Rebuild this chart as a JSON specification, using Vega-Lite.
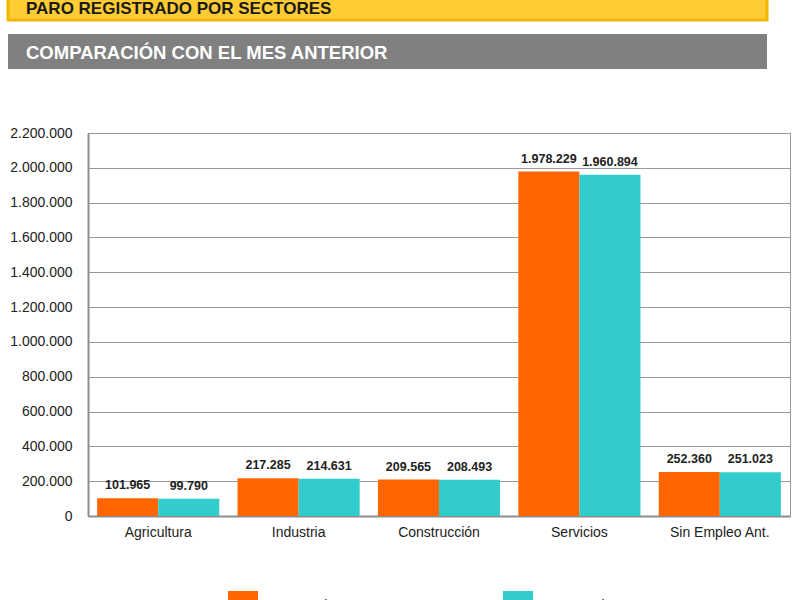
{
  "$schema": "https://vega.github.io/schema/vega-lite/v6.json",
  "padding": {"left": 5, "top": -6, "right": 0, "bottom": 0},
  "background": "white",
  "config": {
    "locale": {"number": {"decimal": ",", "thousands": ".", "grouping": [3], "currency": ["", " €"]}},
    "font": "Liberation Sans",
    "view": {"stroke": null}
  },
  "datasets": {
    "paro": [
      {"sector": "Agricultura", "serie": "Mes anterior", "valor": 101965},
      {"sector": "Agricultura", "serie": "Mes actual", "valor": 99790},
      {"sector": "Industria", "serie": "Mes anterior", "valor": 217285},
      {"sector": "Industria", "serie": "Mes actual", "valor": 214631},
      {"sector": "Construcción", "serie": "Mes anterior", "valor": 209565},
      {"sector": "Construcción", "serie": "Mes actual", "valor": 208493},
      {"sector": "Servicios", "serie": "Mes anterior", "valor": 1978229},
      {"sector": "Servicios", "serie": "Mes actual", "valor": 1960894},
      {"sector": "Sin Empleo Ant.", "serie": "Mes anterior", "valor": 252360},
      {"sector": "Sin Empleo Ant.", "serie": "Mes actual", "valor": 251023}
    ]
  },
  "spacing": 57,
  "vconcat": [
    {
      "spacing": 12,
      "vconcat": [
        {
          "width": 759,
          "height": 24,
          "view": {"fill": "#FFCC33", "stroke": "#F2B600", "strokeWidth": 3},
          "data": {"values": [{"titulo": "PARO REGISTRADO POR SECTORES"}]},
          "mark": {"type": "text", "align": "left", "baseline": "alphabetic", "fontWeight": "bold", "fontSize": 17, "color": "#1a1a1a"},
          "encoding": {
            "text": {"field": "titulo"},
            "x": {"value": 18},
            "y": {"value": 17.5}
          }
        },
        {
          "width": 759,
          "height": 35,
          "view": {"fill": "#808080", "stroke": null},
          "data": {"values": [{"titulo": "COMPARACIÓN CON EL MES ANTERIOR"}]},
          "mark": {"type": "text", "align": "left", "baseline": "alphabetic", "fontWeight": "bold", "fontSize": 18.5, "color": "white"},
          "encoding": {
            "text": {"field": "titulo"},
            "x": {"value": 18},
            "y": {"value": 25}
          }
        }
      ]
    },
    {
      "spacing": 15,
      "hconcat": [
        {
          "width": 1,
          "height": 383,
          "data": {"name": "paro"},
          "mark": {"type": "point", "opacity": 0},
          "encoding": {
            "y": {
              "field": "valor",
              "type": "quantitative",
              "scale": {"domain": [0, 2200000], "nice": false},
              "axis": {
                "orient": "right",
                "title": null,
                "values": [0, 200000, 400000, 600000, 800000, 1000000, 1200000, 1400000, 1600000, 1800000, 2000000, 2200000],
                "format": ",d",
                "labelFontSize": 14,
                "labelColor": "#222222",
                "labelAlign": "right",
                "labelPadding": 63,
                "ticks": false,
                "domain": false,
                "grid": false
              }
            }
          }
        },
        {
          "width": 702,
          "height": 383,
          "view": {"stroke": "#999999", "strokeWidth": 1},
          "data": {"name": "paro"},
          "encoding": {
            "x": {
              "field": "sector",
              "type": "nominal",
              "sort": ["Agricultura", "Industria", "Construcción", "Servicios", "Sin Empleo Ant."],
              "scale": {"paddingInner": 0.13, "paddingOuter": 0.065},
              "axis": {"title": null, "labelAngle": 0, "labelFontSize": 14, "labelColor": "#222222", "labelPadding": 9, "ticks": false, "domainColor": "#8c8c8c", "domainWidth": 2}
            },
            "xOffset": {"field": "serie", "type": "nominal", "sort": ["Mes anterior", "Mes actual"]},
            "y": {
              "field": "valor",
              "type": "quantitative",
              "scale": {"domain": [0, 2200000], "nice": false},
              "axis": {
                "title": null,
                "values": [0, 200000, 400000, 600000, 800000, 1000000, 1200000, 1400000, 1600000, 1800000, 2000000, 2200000],
                "labels": false,
                "ticks": false,
                "minExtent": 0,
                "domainColor": "#8c8c8c",
                "domainWidth": 2,
                "gridColor": "#999999",
                "gridWidth": 1
              }
            }
          },
          "layer": [
            {
              "mark": {"type": "bar"},
              "encoding": {
                "color": {
                  "field": "serie",
                  "type": "nominal",
                  "sort": ["Mes anterior", "Mes actual"],
                  "scale": {"domain": ["Mes anterior", "Mes actual"], "range": ["#FF6600", "#33CCCC"]},
                  "legend": {
                    "orient": "none",
                    "legendX": 220,
                    "legendY": 595,
                    "padding": 0,
                    "title": null,
                    "direction": "horizontal",
                    "symbolType": "square",
                    "symbolSize": 900,
                    "symbolStrokeWidth": 0,
                    "labelFontSize": 14,
                    "labelColor": "#222222",
                    "labelOffset": 4,
                    "columnPadding": 163
                  }
                }
              }
            },
            {
              "mark": {"type": "text", "fontWeight": "bold", "fontSize": 12.5, "baseline": "alphabetic", "dy": -9, "color": "#222222"},
              "encoding": {
                "text": {"field": "valor", "type": "quantitative", "format": ",d"}
              }
            }
          ]
        }
      ]
    }
  ]
}
